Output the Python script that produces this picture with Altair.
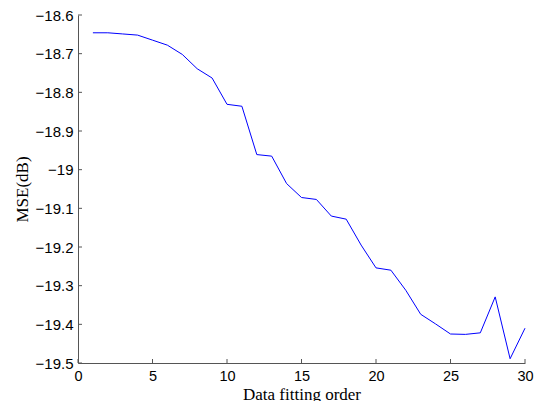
import altair as alt
import pandas as pd

order = list(range(1, 31))
mse = [-18.646, -18.646, -18.649, -18.652, -18.665, -18.678, -18.702, -18.739, -18.763, -18.831,
       -18.836, -18.961, -18.965, -19.036, -19.072, -19.077, -19.120, -19.128, -19.195, -19.254,
       -19.260, -19.312, -19.374, -19.399, -19.425, -19.426, -19.422, -19.329, -19.489, -19.410]
x_ticks = [0, 5, 10, 15, 20, 25, 30]
y_ticks = [-19.5, -19.4, -19.3, -19.2, -19.1, -19.0, -18.9, -18.8, -18.7, -18.6]

W, H = 447, 348
AXC = "#555555"

df = pd.DataFrame({"order": order, "mse": mse})
xt = pd.DataFrame({"order": x_ticks})
yt = pd.DataFrame({"mse": y_ticks})

xscale = alt.Scale(domain=[0, 30], nice=False, zero=False)
yscale = alt.Scale(domain=[-19.5, -18.6], nice=False, zero=False)

xaxis = alt.Axis(title="Data fitting order", values=x_ticks, ticks=False,
                 grid=False, domainColor=AXC, domainWidth=1, labelFlush=False,
                 labelFont="Liberation Sans", labelFontSize=14.5, labelColor="black",
                 labelPadding=6, titleFont="Liberation Serif", titleFontSize=17,
                 titleFontWeight="normal", titleColor="black",
                 titleBaseline="alphabetic", titleY=36, titleX=W / 2)
yaxis = alt.Axis(title="MSE(dB)", values=y_ticks, ticks=False,
                 labelExpr="replace(datum.label, '.0', '')",
                 grid=False, domainColor=AXC, domainWidth=1, labelFlush=False,
                 labelFont="Liberation Sans", labelFontSize=15, labelColor="black",
                 labelPadding=5, titleFont="Liberation Serif", titleFontSize=17,
                 titleFontWeight="normal", titleColor="black",
                 titleAngle=-90, titleBaseline="alphabetic", titleAlign="center",
                 titleX=-51, titleY=H / 2)

line = alt.Chart(df).mark_line(color="#0000ff", strokeWidth=1).encode(
    x=alt.X("order:Q", scale=xscale, axis=xaxis),
    y=alt.Y("mse:Q", scale=yscale, axis=yaxis),
)

xtick_marks = alt.Chart(xt).mark_rule(color=AXC, strokeWidth=1).encode(
    x=alt.X("order:Q", scale=xscale, axis=xaxis),
    y=alt.value(H), y2=alt.value(H - 4),
)
ytick_marks = alt.Chart(yt).mark_rule(color=AXC, strokeWidth=1).encode(
    y=alt.Y("mse:Q", scale=yscale, axis=yaxis),
    x=alt.value(0), x2=alt.value(4),
)

chart = alt.layer(line, xtick_marks, ytick_marks).properties(
    width=W, height=H,
    background="white",
    autosize=alt.AutoSizeParams(type="none"),
    padding={"left": 78, "top": 15, "right": 10, "bottom": 38},
).configure_view(stroke=None)

chart.save("out.html", embed_options={"renderer": "svg", "actions": False})
